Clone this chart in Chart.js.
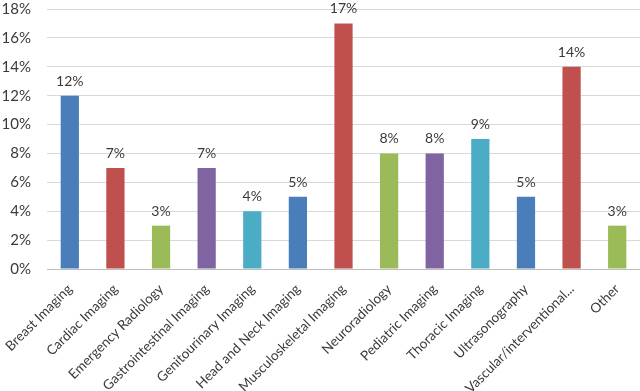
<!DOCTYPE html>
<html>
<head>
<meta charset="utf-8">
<script src="https://cdn.jsdelivr.net/npm/chart.js@4"></script>
<style>
  html, body { margin: 0; padding: 0; background: #fff; }
  #wrap { width: 640px; height: 391px; }
</style>
</head>
<body>
<div id="wrap"><canvas id="chart"></canvas></div>
<script>
// chart data
const categories = [
    'Breast Imaging', 'Cardiac Imaging', 'Emergency Radiology', 'Gastrointestinal Imaging',
    'Genitourinary Imaging', 'Head and Neck Imaging', 'Musculoskeletal Imaging', 'Neuroradiology',
    'Pediatric Imaging', 'Thoracic Imaging', 'Ultrasonography', 'Vascular/interventional...', 'Other'
];
const percentValues = [12, 7, 3, 7, 4, 5, 17, 8, 8, 9, 5, 14, 3];
const yTicks = [0, 2, 4, 6, 8, 10, 12, 14, 16, 18];

const palette = ['#4a7ebb', '#c0504d', '#9bbb59', '#8064a2', '#4bacc6'];
const barColors = categories.map((c, i) => palette[i % palette.length]);

const FONT = 'Lato, "Open Sans", sans-serif';

// value above each bar (no datalabels plugin available offline)
const valueLabels = {
    id: 'valueLabels',
    afterDatasetsDraw(chart) {
        const ctx = chart.ctx;
        const meta = chart.getDatasetMeta(0);
        ctx.save();
        ctx.font = '14px ' + FONT;
        ctx.fillStyle = '#3a3a3a';
        ctx.textAlign = 'center';
        ctx.textBaseline = 'alphabetic';
        meta.data.forEach((bar, i) => {
            ctx.fillText(percentValues[i] + '%', bar.x, bar.y - 10);
        });
        ctx.restore();
    }
};

new Chart(document.getElementById('chart'), {
    type: 'bar',
    data: {
        labels: categories,
        datasets: [{
            data: percentValues,
            backgroundColor: barColors,
            barPercentage: 0.4,
            categoryPercentage: 1.0
        }]
    },
    options: {
        responsive: true,
        maintainAspectRatio: false,
        animation: false,
        layout: { padding: { top: 9, right: 0, left: 0, bottom: 0 } },
        plugins: {
            legend: { display: false },
            tooltip: { enabled: false }
        },
        scales: {
            x: {
                grid: { display: false },
                border: { color: '#bfbfbf' },
                afterFit: axis => {
                    axis.height = 122;
                    axis.paddingLeft = 0;
                    axis.paddingRight = 0;
                },
                ticks: {
                    color: '#3a3a3a',
                    font: { family: FONT, size: 13.5 },
                    minRotation: 45,
                    maxRotation: 45,
                    autoSkip: false,
                    padding: 4
                }
            },
            y: {
                min: yTicks[0],
                max: yTicks[yTicks.length - 1],
                afterBuildTicks: axis => { axis.ticks = yTicks.map(v => ({ value: v })); },
                afterFit: axis => {
                    axis.width = 47;
                    axis.paddingTop = 0;
                    axis.paddingBottom = 0;
                },
                grid: { color: '#d9d9d9', drawTicks: false },
                border: { display: false },
                ticks: {
                    color: '#3a3a3a',
                    font: { family: FONT, size: 15 },
                    padding: 16,
                    callback: v => v + '%'
                }
            }
        }
    },
    plugins: [valueLabels]
});
</script>
</body>
</html>
